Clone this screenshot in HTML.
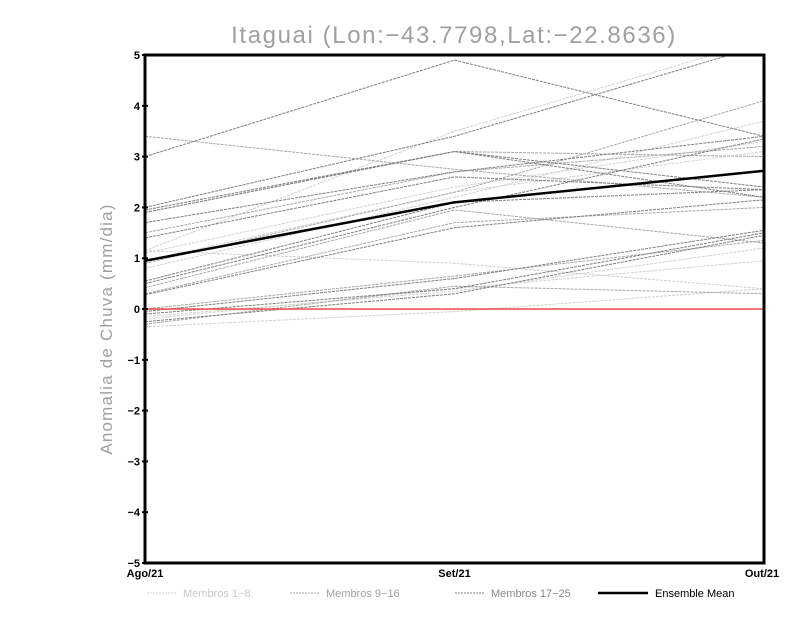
<!DOCTYPE html>
<html><head><meta charset="utf-8"><style>
body{margin:0;background:#fff;}
svg{display:block;font-family:"Liberation Sans",sans-serif;}
</style></head><body>
<svg id="chart" width="800" height="618">
<text x="454" y="43" text-anchor="middle" font-size="24" letter-spacing="1.6" fill="#a0a0a0">Itaguai (Lon:−43.7798,Lat:−22.8636)</text>
<text transform="translate(112,329) rotate(-90)" text-anchor="middle" font-size="17" letter-spacing="1.2" fill="#a0a0a0">Anomalia de Chuva (mm/dia)</text>
<g id="marks"></g>
<g id="axes"></g>
<g id="legend">
<line x1="147" y1="593" x2="177" y2="593" stroke="#d0d0d0" stroke-dasharray="2,1"/>
<text x="183" y="597" font-size="11" fill="#c8c8c8">Membros 1−8</text>
<line x1="290" y1="593" x2="320" y2="593" stroke="#a8a8a8" stroke-dasharray="2,1"/>
<text x="326" y="597" font-size="11" fill="#a0a0a0">Membros 9−16</text>
<line x1="455" y1="593" x2="485" y2="593" stroke="#808080" stroke-dasharray="2,1"/>
<text x="491" y="597" font-size="11" fill="#888">Membros 17−25</text>
<line x1="598" y1="593" x2="648" y2="593" stroke="#000" stroke-width="2.5"/>
<text x="655" y="597" font-size="11" fill="#000">Ensemble Mean</text>
</g>
</svg>
<script>
const categories=["Ago/21","Set/21","Out/21"];
const yTicks=[-5,-4,-3,-2,-1,0,1,2,3,4,5];
const members1to8=[[1.15,3.5,5.3],[1.1,2.4,3.3],[0.95,2.3,3.1],[0.8,2.2,3.7],[1.15,0.9,0.4],[-0.15,0.35,1.2],[-0.2,0.4,0.95],[-0.35,-0.05,0.4]];
const members9to16=[[3.4,2.75,2.2],[0.9,2.3,4.1],[0.42,1.95,1.3],[-0.3,0.45,0.3],[1.5,2.7,3.2],[0.0,0.65,1.35],[1.9,3.1,3.0],[0.3,1.7,2.0]];
const members17to25=[[3.0,4.9,3.4],[2.0,3.4,5.2],[1.95,3.1,2.4],[1.9,3.1,2.2],[1.7,2.7,3.4],[1.4,2.6,2.35],[0.55,2.1,2.35],[0.5,2.0,3.35],[-0.1,0.4,1.5],[-0.25,0.3,1.45],[0.28,1.6,2.15],[-0.05,0.6,1.55]];
const ensembleMean=[0.95,2.1,2.72];
const X0=145,X1=764,Y0=55,Y1=563;
function xs(i){return X0+(X1-X0)*i/(categories.length-1);}
function ys(v){return Y0+(5-v)*(Y1-Y0)/10;}
const NS="http://www.w3.org/2000/svg";
const marks=document.getElementById('marks'),axes=document.getElementById('axes');
const clip=document.createElementNS(NS,'clipPath');clip.setAttribute('id','pc');
const cr=document.createElementNS(NS,'rect');cr.setAttribute('x',X0);cr.setAttribute('y',Y0);cr.setAttribute('width',X1-X0);cr.setAttribute('height',Y1-Y0);
clip.appendChild(cr);document.getElementById('chart').appendChild(clip);
marks.setAttribute('clip-path','url(#pc)');
function line(vals,color,w,dash,name){
 const p=document.createElementNS(NS,'polyline');
 p.setAttribute('points',vals.map((v,i)=>xs(i)+','+ys(v)).join(' '));
 p.setAttribute('fill','none');p.setAttribute('stroke',color);p.setAttribute('stroke-width',w);
 if(dash)p.setAttribute('stroke-dasharray',dash);
 
 
 marks.appendChild(p);
}
members1to8.forEach((m,i)=>line(m,'#d2d2d2',1,'3,1','member-line-'+(i+1)));
members9to16.forEach((m,i)=>line(m,'#a8a8a8',1,'3,1','member-line-'+(i+9)));
members17to25.forEach((m,i)=>line(m,'#7e7e7e',1,'3,1','member-line-'+(i+17)));
const z=document.createElementNS(NS,'line');
z.setAttribute('x1',X0);z.setAttribute('x2',X1);z.setAttribute('y1',ys(0));z.setAttribute('y2',ys(0));
z.setAttribute('stroke','#f04848');z.setAttribute('stroke-width',1.5);


marks.appendChild(z);
line(ensembleMean,'#000',2.5,null,'ensemble-mean-line');
const fr=document.createElementNS(NS,'rect');
fr.setAttribute('x',X0);fr.setAttribute('y',Y0);fr.setAttribute('width',X1-X0);fr.setAttribute('height',Y1-Y0);
fr.setAttribute('fill','none');fr.setAttribute('stroke','#000');fr.setAttribute('stroke-width',3);


axes.appendChild(fr);
yTicks.forEach(t=>{
 const tk=document.createElementNS(NS,'line');
 tk.setAttribute('x1',X0-3);tk.setAttribute('x2',X0+3);tk.setAttribute('y1',ys(t));tk.setAttribute('y2',ys(t));tk.setAttribute('stroke','#000');tk.setAttribute('stroke-width',2);
 
 
 axes.appendChild(tk);
 const tx=document.createElementNS(NS,'text');
 tx.setAttribute('x',X0-5);tx.setAttribute('y',ys(t)+4);tx.setAttribute('text-anchor','end');
 tx.setAttribute('font-size','11');tx.setAttribute('font-weight','bold');
 tx.textContent=t<0?'−'+(-t):String(t);
 
 
 axes.appendChild(tx);
});
categories.forEach((c,i)=>{
 const tx=document.createElementNS(NS,'text');
 tx.setAttribute('x',xs(i)+(i==categories.length-1?-2:0));tx.setAttribute('y',Y1+14);tx.setAttribute('text-anchor','middle');
 tx.setAttribute('font-size','11');tx.setAttribute('font-weight','bold');
 tx.textContent=c;
 
 
 axes.appendChild(tx);
});
</script>
</body></html>
